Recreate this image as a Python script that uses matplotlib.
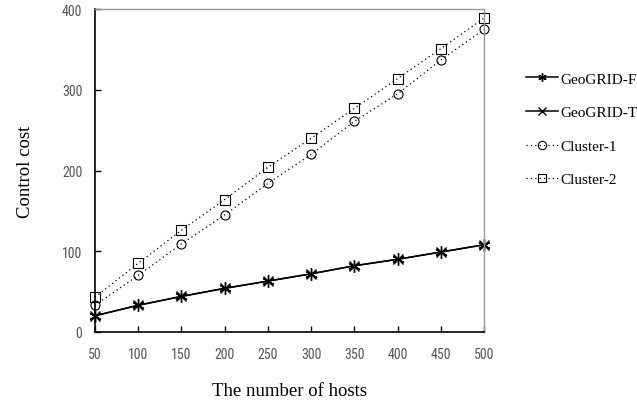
import matplotlib
matplotlib.use("Agg")
import matplotlib.pyplot as plt
from matplotlib import font_manager as fm

hosts = [50, 100, 150, 200, 250, 300, 350, 400, 450, 500]
geogrid_f = [20, 33, 44, 54, 63, 72, 82, 90, 99, 108]
geogrid_t = [20, 33, 44, 54, 63, 72, 82, 90, 99, 108]
cluster_1 = [33, 70, 109, 145, 184, 220, 261, 295, 337, 375]
cluster_2 = [43, 85, 126, 164, 204, 240, 277, 314, 351, 389]
xticks = [50, 100, 150, 200, 250, 300, 350, 400, 450, 500]
yticks = [0, 100, 200, 300, 400]

# find a condensed / narrow sans font if available
cands = []
for f in fm.fontManager.ttflist:
    n = f.name + " " + str(f.fname)
    st = f.stretch
    if ("Narrow" in n or "Condensed" in n or st in ("condensed", "semi-condensed", "extra-condensed")) \
            and "Bold" not in str(f.fname) and "Italic" not in str(f.fname) and "Oblique" not in str(f.fname) \
            and f.weight in ("normal", 400, "regular", "book"):
        cands.append(f)
pref = ["Liberation Sans Narrow", "Roboto Condensed", "Noto Sans", "DejaVu Sans", "Open Sans"]
chosen = None
for p in pref:
    for f in cands:
        if f.name == p or f.name.startswith(p):
            chosen = f
            break
    if chosen:
        break
if chosen is None and cands:
    chosen = cands[0]
if chosen is not None:
    tick_fp = fm.FontProperties(fname=chosen.fname, size=10)
else:
    tick_fp = fm.FontProperties(family="DejaVu Sans", size=8.5)

serif = "Liberation Serif"

fig = plt.figure(figsize=(6.37, 4.06), dpi=100)
ax = fig.add_axes([0.149, 0.180, 0.611, 0.795])

ax.plot(hosts, geogrid_f, color="black", lw=1.1, marker=(6, 2, 0), ms=9, mew=1.0, label="GeoGRID-F")
ax.plot(hosts, geogrid_t, color="black", lw=1.1, marker="x", ms=7, mew=1.0, label="GeoGRID-T")
ax.plot(hosts, cluster_1, color="black", lw=0.9, ls=(0, (1, 2.5)), marker="o", ms=6.5, mfc="none", mew=0.8, label="Cluster-1")
ax.plot(hosts, cluster_2, color="black", lw=0.9, ls=(0, (1, 2.5)), marker="s", ms=6.5, mfc="none", mew=0.8, label="Cluster-2")

ax.set_xlim(50, 500)
ax.set_ylim(0, 400)
ax.set_xticks(xticks)
ax.set_yticks(yticks)
for s in ["top", "right"]:
    ax.spines[s].set_color("#999999")
    ax.spines[s].set_linewidth(1.0)
for s in ["left", "bottom"]:
    ax.spines[s].set_color("black")
    ax.spines[s].set_linewidth(1.2)
ax.tick_params(direction="in", length=4, width=1, colors="black", labelcolor="#555555")
ax.tick_params(axis="x", pad=11)
ax.tick_params(axis="y", pad=9)
for lab in ax.get_xticklabels() + ax.get_yticklabels():
    lab.set_fontproperties(tick_fp)
for l in ax.lines:
    l.set_clip_on(False)

ax.set_xlabel("The number of hosts", fontfamily=serif, fontsize=13.5, labelpad=15)
ax.set_ylabel("Control cost", fontfamily=serif, fontsize=13.5, labelpad=20)

leg = ax.legend(loc="upper left", bbox_to_anchor=(0.825, 0.82), bbox_transform=fig.transFigure,
                frameon=False, prop={"family": serif, "size": 11}, handlelength=2.15,
                handletextpad=0.15, labelspacing=1.3, borderaxespad=0, borderpad=0)
for h in leg.legend_handles:
    h.set_markersize(6)

fig.savefig("out.png", dpi=100)
